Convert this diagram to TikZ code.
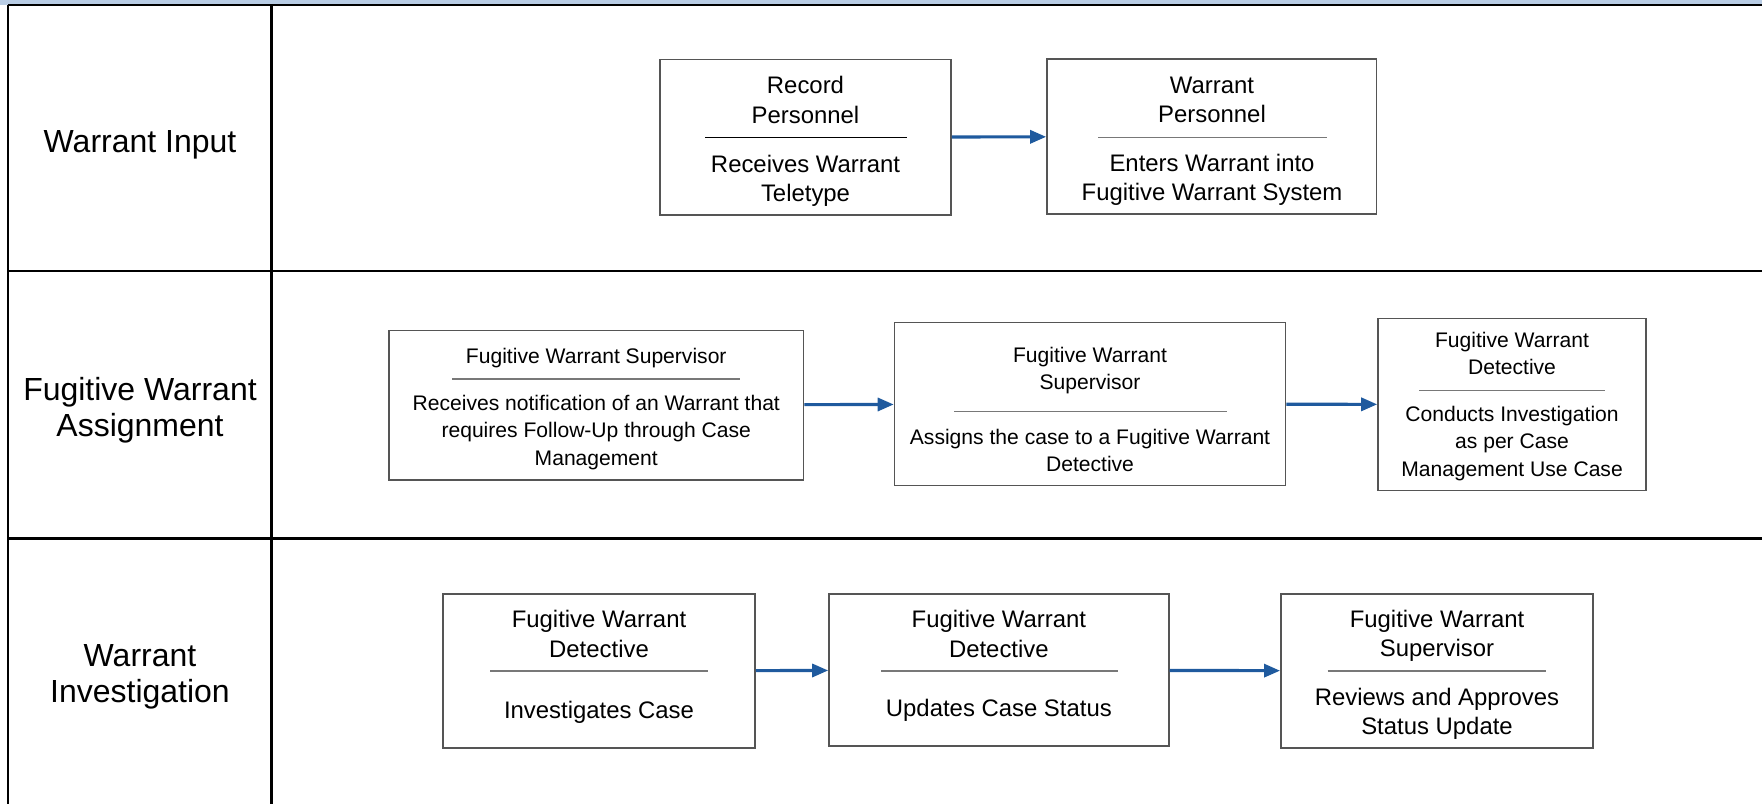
\documentclass[tikz,border=0pt]{standalone}
\usepackage{fontspec}
\setmainfont{Liberation Sans}
\usepackage{xcolor}
\usepackage{tikz}
\usetikzlibrary{arrows.meta}

\definecolor{bandblue}{RGB}{184,204,228}
\definecolor{flowblue}{RGB}{31,90,158}
\definecolor{boxgray}{RGB}{85,85,85}
\definecolor{sepgray}{RGB}{120,120,120}

\begin{document}
\begin{tikzpicture}[
  lane/.style={draw=black, line width=0.7pt},
  lanelabel/.style={align=center, inner sep=0pt, font=\fontsize{9.1}{10.2}\selectfont},
  procbox/.style={draw=boxgray, line width=0.45pt, inner sep=0pt},
  txt/.style={align=center, inner sep=0pt, font=\fontsize{6.8}{8.3}\selectfont},
  txtsm/.style={align=center, inner sep=0pt, font=\fontsize{6}{7.7}\selectfont},
  sep/.style={draw=#1, line width=0.45pt},
  sep/.default=sepgray,
  arr/.style={-{Triangle[length=1.6mm, width=1.3mm]}, draw=flowblue, fill=flowblue, line width=0.9pt}
]
  \useasboundingbox (0,0) rectangle (17.62,-8.04);

  % Kopf und Bahnen
  \fill[bandblue] (0,0) rectangle (17.62,-0.05);
  \draw[lane] (0.08,-0.05) -- (17.62,-0.05);
  \draw[lane] (0.08,-0.05) -- (0.08,-8.04);
  \draw[lane] (2.717,-0.05) -- (2.717,-8.04);
  \draw[lane] (0.08,-2.708) -- (17.62,-2.708);
  \draw[lane] (0.08,-5.383) -- (17.62,-5.383);

  % Bahnbeschriftungen
  \node[lanelabel] (lin) at (1.40,-1.445) {Warrant Input};
  \node[lanelabel] (las) at (1.40,-4.098) {Fugitive Warrant\\Assignment};
  \node[lanelabel] (lnv) at (1.40,-6.765) {Warrant\\Investigation};

  % Bahn 1: Warrant Input
  \node[procbox, minimum width=2.91cm, minimum height=1.557cm] (rec) at (8.055,-1.372) {};
  \node[txt] (recT) at (8.055,-1.00) {Record\\Personnel};
  \draw[sep=black] (7.05,-1.373) -- (9.07,-1.373);
  \node[txt] (recD) at (8.055,-1.806) {Receives Warrant\\Teletype};

  \node[procbox, minimum width=3.297cm, minimum height=1.55cm] (ent) at (12.118,-1.365) {};
  \node[txt] (entT) at (12.12,-1.00) {Warrant\\Personnel};
  \draw[sep] (10.98,-1.373) -- (13.27,-1.373);
  \node[txt] (entD) at (12.12,-1.80) {Enters Warrant into\\Fugitive Warrant System};

  % Bahn 2: Fugitive Warrant Assignment
  \node[procbox, minimum width=4.145cm, minimum height=1.494cm] (ntf) at (5.9625,-4.051) {};
  \node[txtsm] (ntfT) at (5.9625,-3.582) {Fugitive Warrant Supervisor};
  \draw[sep] (4.52,-3.787) -- (7.40,-3.787);
  \node[txtsm] (ntfD) at (5.9625,-4.325) {Receives notification of an Warrant that\\requires Follow-Up through Case\\Management};

  \node[procbox, minimum width=3.91cm, minimum height=1.629cm] (asg) at (10.90,-4.04) {};
  \node[txtsm] (asgT) at (10.90,-3.705) {Fugitive Warrant\\Supervisor};
  \draw[sep] (9.54,-4.113) -- (12.27,-4.113);
  \node[txtsm] (asgD) at (10.90,-4.505) {Assigns the case to a Fugitive Warrant\\Detective};

  \node[procbox, minimum width=2.68cm, minimum height=1.72cm] (cnd) at (15.12,-4.045) {};
  \node[txtsm] (cndT) at (15.12,-3.53) {Fugitive Warrant\\Detective};
  \draw[sep] (14.19,-3.905) -- (16.05,-3.905);
  \node[txtsm] (cndD) at (15.12,-4.435) {Conducts Investigation\\as per Case\\Management Use Case};

  % Bahn 3: Warrant Investigation
  \node[procbox, minimum width=3.12cm, minimum height=1.54cm] (inv) at (5.99,-6.71) {};
  \node[txt] (invT) at (5.99,-6.34) {Fugitive Warrant\\Detective};
  \draw[sep] (4.90,-6.71) -- (7.08,-6.71);
  \node[txt] (invD) at (5.99,-7.12) {Investigates Case};

  \node[procbox, minimum width=3.397cm, minimum height=1.52cm] (upd) at (9.9885,-6.70) {};
  \node[txt] (updT) at (9.9885,-6.34) {Fugitive Warrant\\Detective};
  \draw[sep] (8.81,-6.707) -- (11.175,-6.707);
  \node[txt] (updD) at (9.9885,-7.103) {Updates Case Status};

  \node[procbox, minimum width=3.123cm, minimum height=1.543cm] (rev) at (14.37,-6.71) {};
  \node[txt] (revT) at (14.37,-6.358) {Fugitive Warrant\\Supervisor};
  \draw[sep] (13.276,-6.71) -- (15.46,-6.71);
  \node[txt] (revD) at (14.37,-7.135) {Reviews and Approves\\Status Update};

  % Verbindungen
  \draw[arr] (rec) -- (ent);
  \draw[arr] (ntf) -- (asg);
  \draw[arr] (asg) -- (cnd);
  \draw[arr] (inv) -- (upd);
  \draw[arr] (upd) -- (rev);
\end{tikzpicture}
\end{document}
